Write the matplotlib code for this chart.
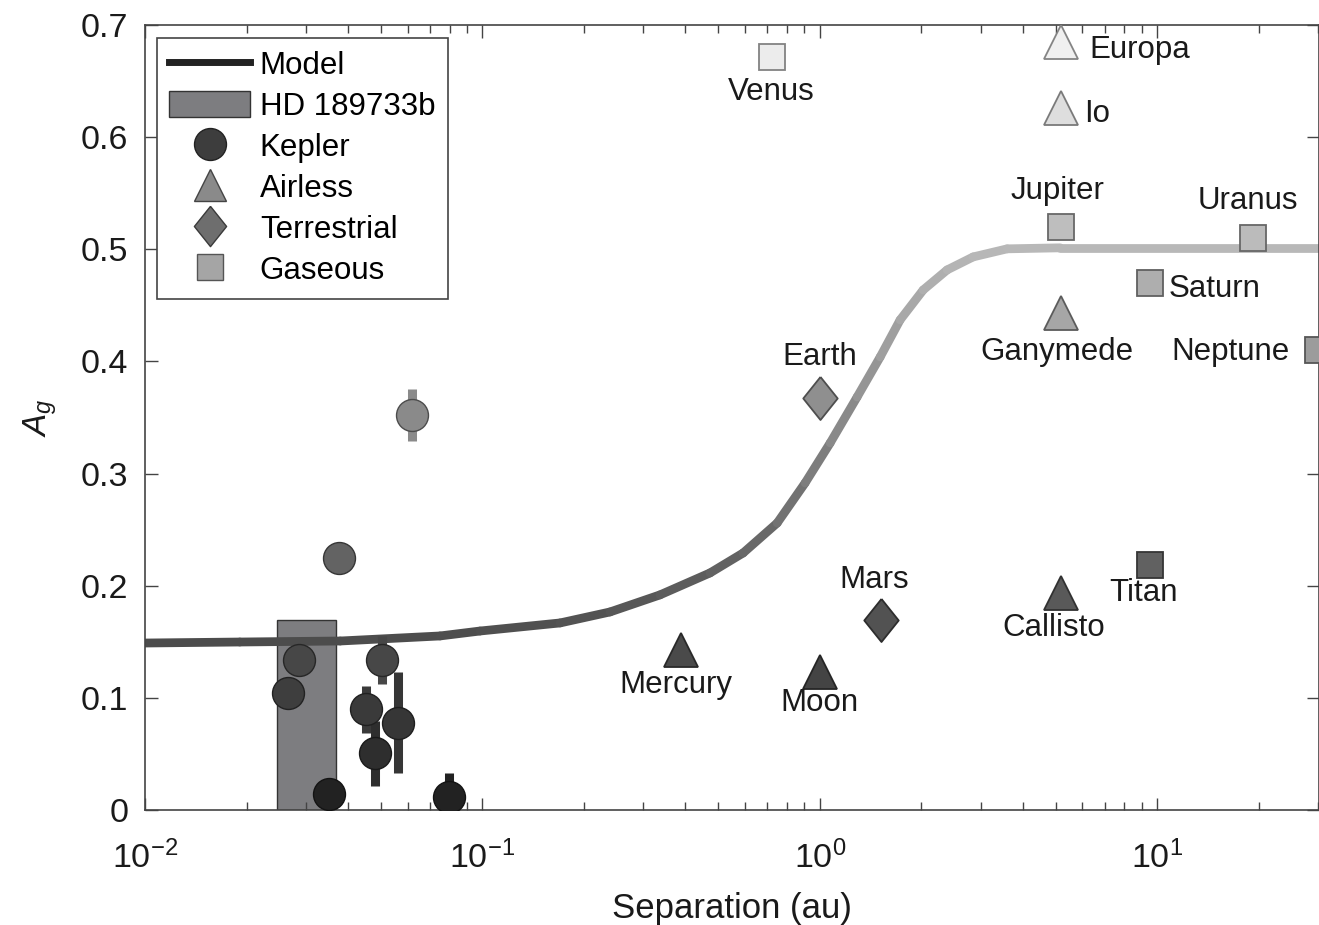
import numpy as np
import matplotlib
matplotlib.use("Agg")
import matplotlib.pyplot as plt
from matplotlib.collections import LineCollection
from matplotlib.lines import Line2D
from matplotlib.patches import Patch

plt.rcParams['font.family'] = ['Liberation Sans', 'DejaVu Sans']
plt.rcParams['mathtext.fontset'] = 'custom'
plt.rcParams['mathtext.rm'] = 'Liberation Sans'
plt.rcParams['mathtext.it'] = 'Liberation Sans:italic'

# model curve
model_a = [0.01, 0.0191, 0.0379, 0.0749, 0.0984, 0.170, 0.239, 0.336, 0.473, 0.593,
           0.748, 0.905, 1.074, 1.291, 1.511, 1.731, 2.026, 2.386, 2.850, 3.594,
           5.16, 30.2]
model_ag = [0.1489, 0.1498, 0.1507, 0.1552, 0.1596, 0.1668, 0.1766, 0.1918, 0.2114, 0.2292,
            0.2559, 0.2916, 0.3273, 0.3683, 0.4040, 0.4370, 0.4637, 0.4816, 0.4932, 0.5004,
            0.5013, 0.5013]

# HD 189733b range
hd_a = [0.0246, 0.0368]
hd_ag = 0.169

# Kepler planets
kep_a = [0.0617, 0.0377, 0.0287, 0.0266, 0.0503, 0.0452, 0.0564, 0.0481, 0.0352, 0.0798]
kep_ag = [0.352, 0.2245, 0.134, 0.1046, 0.1338, 0.0898, 0.0779, 0.0506, 0.0143, 0.0119]
kep_err = [0.023, 0.0, 0.0, 0.0, 0.021, 0.021, 0.045, 0.029, 0.0, 0.021]

# solar system bodies
bodies = ["Venus", "Europa", "Io", "Jupiter", "Uranus", "Saturn", "Ganymede", "Neptune",
          "Earth", "Mars", "Mercury", "Moon", "Callisto", "Titan"]
body_a = [0.72, 5.2, 5.2, 5.2, 19.2, 9.55, 5.2, 30.0, 1.0, 1.52, 0.387, 1.0, 5.2, 9.55]
body_ag = [0.6715, 0.685, 0.626, 0.52, 0.51, 0.47, 0.443, 0.41, 0.367, 0.169, 0.1427,
           0.123, 0.1935, 0.2185]
body_kind = ["s", "^", "^", "s", "s", "s", "^", "s", "D", "D", "^", "^", "^", "s"]
# label offsets in pixels and alignment
lab_off = [(0, -35), (28, -8), (23, -6), (-4, 36), (-5, 37), (18, -6), (-4, -39), (-28, -2),
           (0, 41), (-7, 40), (-5, -35), (0, -31), (-8, -35), (-7, -28)]
lab_ha = ["center", "left", "left", "center", "center", "left", "center", "right",
          "center", "center", "center", "center", "center", "center"]

# slightly tall diamond like the original
diamond = [(0, 1), (0.8, 0), (0, -1), (-0.8, 0), (0, 1)]
marker_map = {"s": ("s", 19), "^": ("^", 24), "D": (diamond, 31)}


def gray(v):
    g = (30 + 215 * min(max(v, 0), 0.7) / 0.7) / 255.0
    return (g, g, g)


def edge(v):
    g = gray(v)[0] * 0.55
    return (g, g, g)


fig = plt.figure(figsize=(13.19, 9.25), dpi=100)
ax = fig.add_axes([145 / 1319, 1 - 810 / 925, 1 - 145 / 1319, (810 - 25) / 925])
ax.set_xscale('log')
ax.set_xlim(0.01, 30.2)
ax.set_ylim(0, 0.7)

# HD 189733b box
ax.bar(hd_a[0], hd_ag, width=hd_a[1] - hd_a[0], align='edge', color='#7d7d80',
       edgecolor='#333333', linewidth=1, zorder=1)

# model curve with grey gradient
pts = np.column_stack([model_a, model_ag])
segs = [pts[i:i + 2] for i in range(len(pts) - 1)]
cols = [gray(0.5 * (model_ag[i] + model_ag[i + 1])) for i in range(len(pts) - 1)]
lc = LineCollection(segs, colors=cols, linewidths=6.3, capstyle='round', zorder=2)
ax.add_collection(lc)

# Kepler points
for a, g, e in zip(kep_a, kep_ag, kep_err):
    if e > 0:
        ax.errorbar(a, g, yerr=e, fmt='none', ecolor=gray(g), elinewidth=6.5,
                    capsize=0, zorder=3)
    ax.plot(a, g, 'o', ms=23, mfc=gray(g), mec=edge(g), mew=1, zorder=4)

# solar system
for name, a, g, m, off, ha in zip(bodies, body_a, body_ag, body_kind, lab_off, lab_ha):
    mk, ms = marker_map[m]
    ax.plot(a, g, marker=mk, ls='none', ms=ms, mfc=gray(g), mec=edge(g), mew=1.3, zorder=4)
    ax.annotate(name, (a, g), xytext=off, textcoords='offset pixels', ha=ha,
                va='center', fontsize=22.5, color='#1a1a1a', zorder=5)

ax.set_yticks(np.arange(0, 0.71, 0.1))
ax.set_yticklabels(["0", "0.1", "0.2", "0.3", "0.4", "0.5", "0.6", "0.7"])
ax.tick_params(which='both', direction='in', top=True, right=True, colors='#444444',
               labelcolor='#1a1a1a', labelsize=24.5)
ax.tick_params(which='major', length=9, width=1)
ax.tick_params(which='minor', length=6, width=1)
ax.tick_params(axis='x', pad=22)
ax.tick_params(axis='y', pad=12)
for s in ax.spines.values():
    s.set_color('#444444')
    s.set_linewidth(1.2)

ax.set_xlabel("Separation (au)", fontsize=25, color='#1a1a1a', labelpad=12)
ax.set_ylabel(r"$A_g$", fontsize=24, color='#1a1a1a', labelpad=16)

handles = [
    Line2D([], [], color='#222222', lw=5),
    Patch(facecolor='#7d7d80', edgecolor='#333333'),
    Line2D([], [], ls='none', marker='o', ms=23, mfc='#3d3d3d', mec='#222222'),
    Line2D([], [], ls='none', marker='^', ms=23, mfc='#8a8a8a', mec='#444444'),
    Line2D([], [], ls='none', marker=diamond, ms=29, mfc='#6e6e6e', mec='#3a3a3a'),
    Line2D([], [], ls='none', marker='s', ms=19, mfc='#a5a5a5', mec='#555555'),
]
labels = ["Model", "HD 189733b", "Kepler", "Airless", "Terrestrial", "Gaseous"]
leg = ax.legend(handles, labels, loc='upper left', bbox_to_anchor=(0.010, 0.984),
                borderaxespad=0, fontsize=22.5, fancybox=False, edgecolor='#444444',
                framealpha=1, handlelength=2.6, handleheight=0.9, handletextpad=0.3,
                labelspacing=0.33, borderpad=0.4)
leg.get_frame().set_linewidth(1.2)
leg.set_zorder(6)

fig.savefig("out.png", dpi=100)
